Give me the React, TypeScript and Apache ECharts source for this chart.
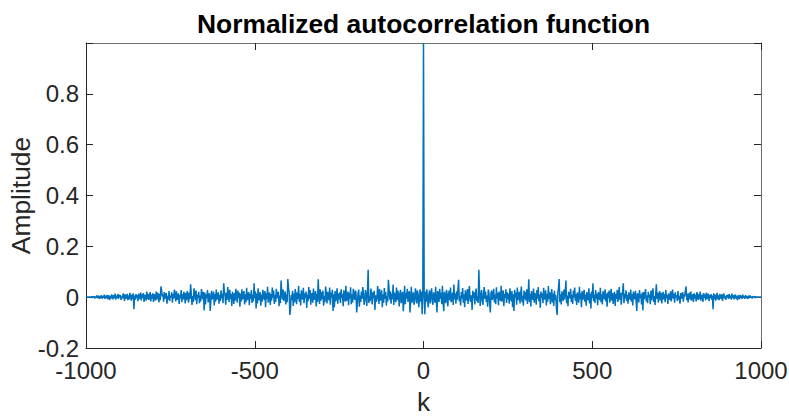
import React, { useEffect, useRef } from "react";
import * as echarts from "echarts";

// Autocorrelation values for positive lags k = 2, 4, ..., 1000 (estimated)
// The function is symmetric: r(-k) = r(k); r(0) = 1.
const LAG_STEP = 2;
const PEAK_VALUE = 1;
const HALF_VALUES: number[] = [
  // 2..50
  0.015, -0.067, 0.022, -0.018, 0.031, -0.009, -0.04, 0.012, 0.027, -0.025, 0.008, 0.035, -0.014, -0.03, 0.019, 0.003, -0.022, 0.041, -0.011, -0.06, 0.024, 0.01, -0.019, 0.033, -0.006,
  // 52..100
  0.017, -0.028, 0.045, -0.015, -0.055, 0.021, 0.002, -0.024, 0.029, 0.013, -0.037, 0.009, 0.026, -0.012, 0.038, -0.02, -0.003, 0.018, -0.031, 0.05, -0.008, 0.014, -0.026, 0.023, -0.01,
  // 102..150
  0.03, 0.068, -0.017, 0.005, -0.033, 0.02, -0.006, 0.036, -0.022, 0.011, -0.04, 0.027, 0.001, -0.014, 0.032, -0.027, 0.016, 0.044, -0.009, -0.018, 0.007, -0.05, 0.025, -0.004, 0.019,
  // 152..200
  -0.029, 0.012, 0.034, -0.016, 0.003, -0.023, 0.108, 0.021, -0.035, 0.009, 0.028, -0.012, -0.03, 0.015, 0.04, -0.007, 0.022, -0.019, 0.006, -0.038, 0.03, 0.013, -0.024, -0.06, 0.017,
  // 202..250
  0.026, -0.011, 0.004, 0.033, -0.021, 0.01, -0.028, 0.039, -0.005, 0.016, -0.032, 0.022, 0.002, -0.015, 0.045, -0.018, 0.008, 0.027, -0.036, 0.012, -0.003, 0.031, -0.023, 0.019, -0.009,
  // 252..300
  0.014, -0.026, 0.035, 0.006, -0.017, 0.024, -0.04, 0.011, -0.054, 0.029, -0.002, 0.018, -0.03, 0.038, -0.013, 0.007, 0.021, -0.025, 0.015, 0.042, -0.02, 0.004, -0.034, 0.026, -0.008,
  // 302..350
  0.02, -0.014, 0.031, -0.027, 0.009, 0.07, -0.019, 0.013, -0.037, 0.024, 0.001, -0.011, 0.034, -0.022, 0.017, 0.005, -0.03, 0.028, -0.006, 0.04, -0.016, 0.01, -0.042, 0.022, -0.003,
  // 352..400
  0.015, -0.024, 0.037, -0.01, 0.006, 0.027, -0.033, 0.012, -0.018, 0.044, -0.007, 0.019, -0.028, 0.003, 0.032, -0.021, 0.014, -0.035, 0.025, -0.012, 0.008, -0.045, -0.07, 0.018, 0.036,
  // 402..450
  0.071, -0.02, 0.011, -0.029, 0.023, 0.004, -0.015, 0.03, -0.009, 0.017, 0.065, -0.024, 0.006, -0.036, 0.021, 0.013, -0.005, 0.033, -0.019, 0.009, -0.027, 0.026, -0.002, 0.038, -0.014,
  // 452..500
  0.012, -0.031, 0.019, 0.003, -0.022, 0.041, -0.008, 0.015, -0.04, 0.024, -0.011, 0.007, 0.029, -0.018, 0.01, -0.034, 0.02, 0.001, -0.013, 0.035, -0.025, 0.014, -0.044, 0.022, -0.004,
  // 502..550
  0.055, -0.016, 0.009, -0.023, 0.028, -0.006, 0.013, -0.032, 0.02, 0.002, -0.012, 0.037, -0.02, 0.011, -0.029, 0.024, 0.005, -0.009, 0.031, -0.017, 0.014, -0.038, 0.018, -0.003, 0.026,
  // 552..600
  -0.022, 0.008, 0.033, -0.014, 0.016, -0.027, 0.004, 0.021, -0.035, 0.012, -0.007, 0.029, -0.019, 0.01, 0.04, -0.011, 0.017, -0.03, 0.006, 0.023, 0.055, -0.024, 0.013, -0.005, 0.027,
  // 602..650
  -0.015, 0.009, -0.026, 0.019, 0.003, -0.01, 0.03, -0.018, 0.012, -0.033, 0.022, 0.001, -0.008, 0.025, -0.014, -0.054, 0.015, 0.007, -0.021, 0.028, -0.004, 0.011, -0.029, 0.018, -0.052,
  // 652..700
  0.02, -0.009, 0.014, 0.032, -0.017, 0.006, -0.024, 0.021, -0.002, 0.01, -0.028, 0.026, -0.012, 0.016, 0.035, -0.019, 0.004, -0.031, 0.013, 0.051, -0.007, 0.018, -0.022, 0.009, 0.024,
  // 702..750
  -0.013, 0.017, -0.025, 0.006, 0.021, -0.009, 0.012, -0.02, 0.028, -0.004, 0.008, -0.027, 0.015, 0.002, -0.011, 0.023, -0.017, 0.01, 0.03, -0.006, 0.013, -0.022, 0.019, -0.001, 0.007,
  // 752..800
  -0.015, 0.024, -0.01, 0.005, -0.026, 0.016, 0.009, -0.007, 0.02, -0.018, 0.011, 0.003, 0.027, 0.042, -0.012, 0.014, -0.021, 0.006, 0.018, -0.009, 0.022, -0.014, 0.001, 0.012, -0.019,
  // 802..850
  0.015, -0.006, 0.01, -0.017, 0.02, 0.003, -0.011, 0.013, -0.008, 0.022, -0.014, 0.005, 0.009, -0.019, 0.016, -0.003, 0.011, -0.013, 0.018, -0.007, 0.002, 0.014, -0.016, 0.008, -0.004,
  // 852..900
  0.012, -0.01, 0.006, -0.047, 0.015, -0.008, 0.01, -0.014, 0.004, 0.017, -0.009, 0.007, -0.012, 0.013, 0.001, -0.006, 0.011, -0.015, 0.009, 0.014, -0.005, 0.003, -0.011, 0.008, -0.002,
  // 902..950
  0.01, -0.007, 0.012, -0.003, 0.006, -0.01, 0.014, -0.004, 0.008, -0.009, 0.003, 0.011, -0.006, 0.005, -0.012, 0.007, 0.002, -0.008, 0.009, -0.003, 0.006, -0.007, 0.01, -0.002, 0.004,
  // 952..1000
  -0.006, 0.008, -0.003, 0.005, -0.007, 0.002, 0.006, -0.004, 0.007, -0.002, 0.003, -0.005, 0.004, -0.001, 0.003, -0.003, 0.002, 0.001, -0.002, 0.002, -0.001, 0.001, 0, 0.001, 0,
];

const X_MIN = -1000;
const X_MAX = 1000;
const X_INTERVAL = 500;
const Y_MIN = -0.2;
const Y_MAX = 1;
const Y_INTERVAL = 0.2;

const TITLE = "Normalized autocorrelation function";
const X_LABEL = "k";
const Y_LABEL = "Amplitude";

const FONT = '"Liberation Sans", Arial, Helvetica, sans-serif';
const AXIS_COLOR = "#262626";
const BOX_COLOR = "#6e6e6e";
const LINE_COLOR = "#0072BD";

function buildData(): [number, number][] {
  const out: [number, number][] = [];
  for (let i = HALF_VALUES.length - 1; i >= 0; i--) {
    out.push([-(i + 1) * LAG_STEP, HALF_VALUES[i]]);
  }
  out.push([0, PEAK_VALUE]);
  for (let i = 0; i < HALF_VALUES.length; i++) {
    out.push([(i + 1) * LAG_STEP, HALF_VALUES[i]]);
  }
  return out;
}

const GRID = { left: 86, right: 28, top: 43, bottom: 70 };

export default function App() {
  const ref = useRef<HTMLDivElement>(null);

  useEffect(() => {
    if (!ref.current) return;
    const chart = echarts.init(ref.current, undefined, { renderer: "svg" });
    const yFmt = (v: number) => {
      if (v >= Y_MAX - 1e-9) return "";
      if (Math.abs(v) < 1e-9) return "0";
      return (Math.round(v * 10) / 10).toFixed(1);
    };
    const xFmt = (v: number) => String(Math.round(v));
    const plotCenterX = GRID.left + (789 - GRID.left - GRID.right) / 2;
    const plotCenterY = GRID.top + (418 - GRID.top - GRID.bottom) / 2;

    chart.setOption({
      animation: false,
      backgroundColor: "#ffffff",
      grid: { ...GRID, containLabel: false, outerBoundsMode: "none" },
      xAxis: [
        {
          type: "value",
          min: X_MIN,
          max: X_MAX,
          interval: X_INTERVAL,
          position: "bottom",
          axisLine: { show: true, onZero: false, lineStyle: { color: AXIS_COLOR, width: 1 } },
          axisTick: { show: true, inside: true, length: 7, lineStyle: { color: AXIS_COLOR, width: 1 } },
          axisLabel: { color: AXIS_COLOR, fontSize: 24, fontFamily: FONT, margin: 10, formatter: xFmt },
          splitLine: { show: false },
        },
        {
          type: "value",
          min: X_MIN,
          max: X_MAX,
          interval: X_INTERVAL,
          position: "top",
          axisLine: { show: true, onZero: false, lineStyle: { color: BOX_COLOR, width: 1 } },
          axisTick: { show: true, inside: true, length: 7, lineStyle: { color: AXIS_COLOR, width: 1 } },
          axisLabel: { show: false },
          splitLine: { show: false },
        },
      ],
      yAxis: [
        {
          type: "value",
          min: Y_MIN,
          max: Y_MAX,
          interval: Y_INTERVAL,
          position: "left",
          axisLine: { show: true, onZero: false, lineStyle: { color: AXIS_COLOR, width: 1 } },
          axisTick: { show: true, inside: true, length: 7, lineStyle: { color: AXIS_COLOR, width: 1 } },
          axisLabel: { color: AXIS_COLOR, fontSize: 24, fontFamily: FONT, margin: 7, formatter: yFmt },
          splitLine: { show: false },
        },
        {
          type: "value",
          min: Y_MIN,
          max: Y_MAX,
          interval: Y_INTERVAL,
          position: "right",
          axisLine: { show: true, onZero: false, lineStyle: { color: BOX_COLOR, width: 1 } },
          axisTick: { show: true, inside: true, length: 7, lineStyle: { color: AXIS_COLOR, width: 1 } },
          axisLabel: { show: false },
          splitLine: { show: false },
        },
      ],
      series: [
        {
          type: "line",
          xAxisIndex: 0,
          yAxisIndex: 0,
          data: buildData(),
          showSymbol: false,
          symbol: "none",
          lineStyle: { color: LINE_COLOR, width: 1.5 },
          silent: true,
        },
      ],
      graphic: [
        {
          type: "text",
          x: plotCenterX,
          y: 23.5,
          style: {
            text: TITLE,
            fontSize: 26.4,
            fontWeight: "bold",
            fontFamily: FONT,
            fill: "#000000",
            textAlign: "center",
            textVerticalAlign: "middle",
          },
        },
        {
          type: "text",
          x: plotCenterX,
          y: 402,
          style: {
            text: X_LABEL,
            fontSize: 26.4,
            fontFamily: FONT,
            fill: AXIS_COLOR,
            textAlign: "center",
            textVerticalAlign: "middle",
          },
        },
        {
          type: "text",
          x: 21,
          y: plotCenterY,
          rotation: Math.PI / 2,
          style: {
            text: Y_LABEL,
            fontSize: 26.4,
            fontFamily: FONT,
            fill: AXIS_COLOR,
            textAlign: "center",
            textVerticalAlign: "middle",
          },
        },
      ],
    });
    return () => chart.dispose();
  }, []);

  return <div ref={ref} style={{ width: 789, height: 418, position: "absolute", left: 0, top: 0 }} />;
}
